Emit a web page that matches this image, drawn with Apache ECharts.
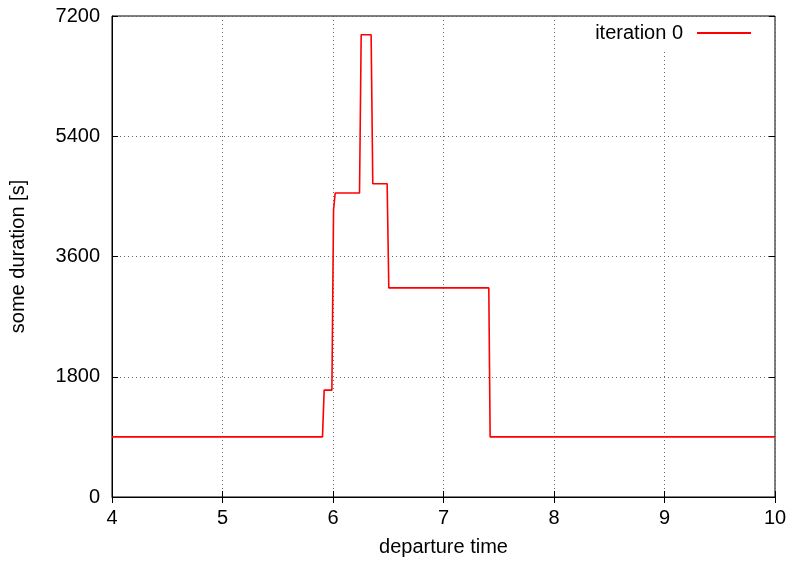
<!DOCTYPE html>
<html>
<head>
<meta charset="utf-8">
<script src="https://cdn.jsdelivr.net/npm/echarts@6/dist/echarts.min.js"></script>
<style>
html,body{margin:0;padding:0;background:#fff;}
#chart{width:793px;height:562px;}
</style>
</head>
<body>
<div id="chart"></div>
<script>
// departure time (hours) and duration (seconds)
var departureTimes = [4, 5.905, 5.92, 5.99, 6.005, 6.02, 6.24, 6.255, 6.345, 6.36, 6.49, 6.505, 7.41, 7.422, 10];
var durations      = [900, 900, 1600, 1600, 4300, 4550, 4550, 6920, 6920, 4690, 4690, 3130, 3130, 900, 900];
var seriesName = 'iteration 0';
var xTicks = [4, 5, 6, 7, 8, 9, 10];
var yTicks = [0, 1800, 3600, 5400, 7200];

var points = departureTimes.map(function (t, i) { return [t, durations[i]]; });
var FONT = 'Liberation Sans, Arial, sans-serif';
var FS = 20;
var gridLine = { show: true, lineStyle: { color: '#666', type: [1, 3], width: 1 } };
var plain = function (v) { return String(v); };

var chart = echarts.init(document.getElementById('chart'), null, { renderer: 'canvas' });
chart.setOption({
  animation: false,
  backgroundColor: '#fff',
  textStyle: { fontFamily: FONT },
  grid: { left: 111, right: 18, top: 16, bottom: 59, show: true, borderColor: '#000', borderWidth: 1, backgroundColor: 'transparent' },
  legend: {
    show: true,
    right: 19, top: 17,
    padding: [6, 23, 7, 12],
    backgroundColor: '#fff',
    align: 'right',
    itemWidth: 54, itemHeight: 14,
    textStyle: { fontFamily: FONT, fontSize: FS, color: '#000', padding: [0, 9, 0, 0] },
    data: [{ name: seriesName, icon: 'path://M0,6 L54,6 L54,8 L0,8 Z', itemStyle: { color: '#ff0000' } }]
  },
  xAxis: [{
    type: 'value', min: xTicks[0], max: xTicks[xTicks.length - 1], interval: 1,
    name: 'departure time', nameLocation: 'middle', nameGap: 40,
    nameTextStyle: { fontFamily: FONT, fontSize: FS, color: '#000' },
    axisLine: { show: true, lineStyle: { color: '#000' } },
    axisTick: { show: true, inside: true, length: 6, lineStyle: { color: '#000' } },
    axisLabel: { fontFamily: FONT, fontSize: FS, color: '#000', margin: 11, formatter: plain },
    splitLine: gridLine
  }, {
    type: 'value', position: 'top', min: xTicks[0], max: xTicks[xTicks.length - 1], interval: 1,
    axisLine: { show: false },
    axisTick: { show: true, inside: true, length: 6, lineStyle: { color: '#000' } },
    axisLabel: { show: false }, splitLine: { show: false }
  }],
  yAxis: [{
    type: 'value', min: yTicks[0], max: yTicks[yTicks.length - 1], interval: 1800,
    name: 'some duration [s]', nameLocation: 'middle', nameGap: 84,
    nameTextStyle: { fontFamily: FONT, fontSize: FS, color: '#000' },
    axisLine: { show: true, lineStyle: { color: '#000' } },
    axisTick: { show: true, inside: true, length: 6, lineStyle: { color: '#000' } },
    axisLabel: { fontFamily: FONT, fontSize: FS, color: '#000', margin: 12, formatter: plain },
    splitLine: gridLine
  }, {
    type: 'value', position: 'right', min: yTicks[0], max: yTicks[yTicks.length - 1], interval: 1800,
    axisLine: { show: false },
    axisTick: { show: true, inside: true, length: 6, lineStyle: { color: '#000' } },
    axisLabel: { show: false }, splitLine: { show: false }
  }],
  series: [{
    name: seriesName, type: 'line', data: points,
    showSymbol: false, symbol: 'none',
    lineStyle: { color: '#ff0000', width: 1.6 },
    itemStyle: { color: '#ff0000' },
    z: 3
  }]
});
</script>
</body>
</html>
